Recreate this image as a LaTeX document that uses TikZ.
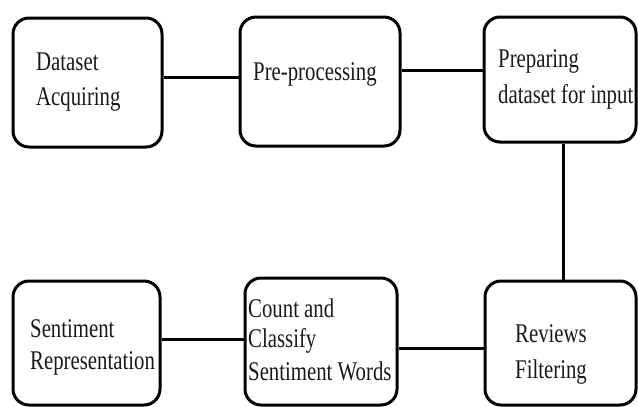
\documentclass[tikz,border=0pt]{standalone}
\usepackage{fontspec}
\setmainfont{Liberation Serif}[FakeStretch=0.77]
\begin{document}
\begin{tikzpicture}[x=1pt,y=-1pt,
  stage/.style={draw=black, line width=3pt, rounded corners=16pt, inner sep=0pt},
  lbl/.style={anchor=base west, inner sep=0pt, font=\fontsize{27}{32}\selectfont, text=black!90},
  link/.style={line width=3pt}]
\useasboundingbox (0,0) rectangle (638,407);
% boxes
\node[stage, minimum width=149pt, minimum height=129pt] (b1) at (87.5,82.5) {};
\node[stage, minimum width=160pt, minimum height=129pt] (b2) at (320,81.5) {};
\node[stage, minimum width=152pt, minimum height=125pt] (b3) at (560,79.5) {};
\node[stage, minimum width=147pt, minimum height=124pt] (b4) at (86.5,343) {};
\node[stage, minimum width=152pt, minimum height=127pt] (b5) at (321,341.5) {};
\node[stage, minimum width=151pt, minimum height=124pt] (b6) at (560.5,343) {};
% labels
\node[lbl] (t1a) at (36,70) {Dataset};
\node[lbl] (t1b) at (36,105) {Acquiring};
\node[lbl] (t2a) at (253,80) {Pre-processing};
\node[lbl] (t3a) at (498,67) {Preparing};
\node[lbl] (t3b) at (498,103) {dataset for input};
\node[lbl] (t4a) at (30,337) {Sentiment};
\node[lbl] (t4b) at (30,369) {Representation};
\node[lbl] (t5a) at (248,317) {Count and};
\node[lbl] (t5b) at (248,347) {Classify};
\node[lbl] (t5c) at (248,380) {Sentiment Words};
\node[lbl] (t6a) at (515,342) {Reviews};
\node[lbl] (t6b) at (515,378) {Filtering};
% connectors
\draw[link] ([yshift=5.5pt]b1.east) -- ([yshift=5.5pt]b1.east -| b2.west);
\draw[link] ([yshift=11.5pt]b2.east) -- ([yshift=11.5pt]b2.east -| b3.west);
\draw[link] ([xshift=3pt]b3.south) -- ([xshift=3pt]b3.south |- b6.north);
\draw[link] ([yshift=-5.5pt]b6.west) -- ([yshift=-5.5pt]b6.west -| b5.east);
\draw[link] ([yshift=2pt]b5.west -| b4.east) -- ([yshift=2pt]b5.west);
\end{tikzpicture}
\end{document}
